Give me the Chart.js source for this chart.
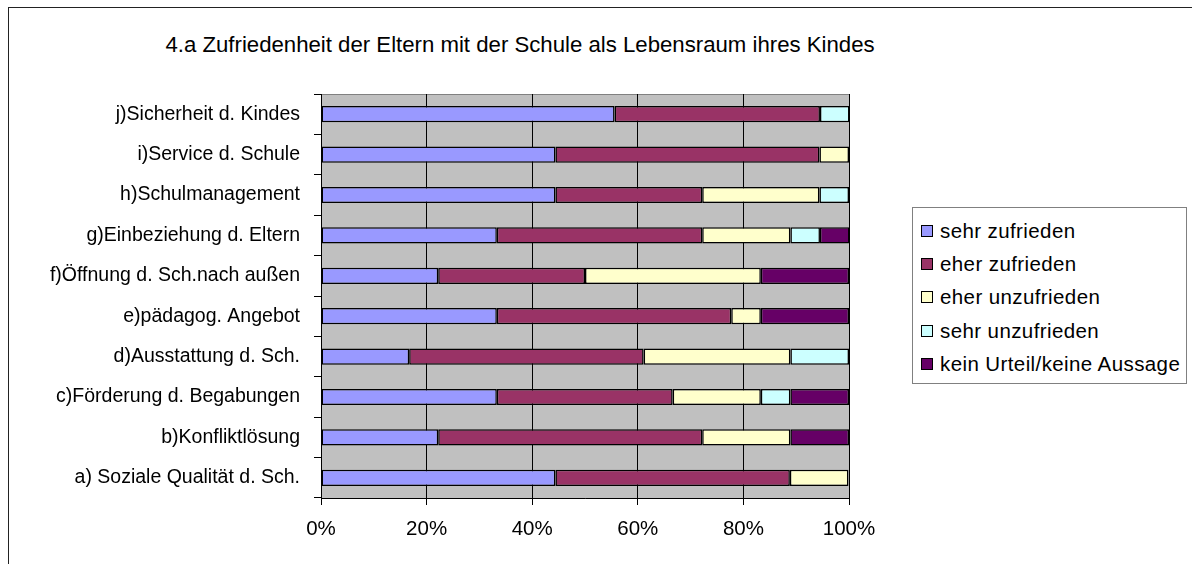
<!DOCTYPE html>
<html>
<head>
<meta charset="utf-8">
<script src="https://cdn.jsdelivr.net/npm/chart.js@4/dist/chart.umd.min.js"></script>
<style>
  body { margin: 0; background: #fff; font-family: "Liberation Sans", Arial, sans-serif; }
  #wrap { position: relative; width: 1192px; height: 564px; overflow: hidden; }
  #frame { position: absolute; left: 8px; top: 7px; width: 1300px; height: 700px; border: 1px solid #222; }
  #title { position: absolute; left: 0; width: 1040px; top: 32px; text-align: center; font-size: 22.2px; color: #000; }
  #chart { position: absolute; left: 0; top: 0; }
  #legend { position: absolute; left: 912px; top: 207px; width: 273px; height: 175px; border: 1px solid #808080; background: #fff; }
  #legend div { position: absolute; left: 8px; font-size: 20.5px; letter-spacing: 0.4px; line-height: 22px; color: #000; white-space: nowrap; }
  #legend span { display: inline-block; width: 10px; height: 10px; border: 1px solid #000; margin-right: 7px; vertical-align: 1px; }
</style>
</head>
<body>
<div id="wrap">
  <div id="frame"></div>
  <div id="title">4.a Zufriedenheit der Eltern mit der Schule als Lebensraum ihres Kindes</div>
  <canvas id="chart" width="1040" height="564"></canvas>
  <div id="legend"></div>
</div>
<script>
// ===============================
// DATA (percent, n = 18 answers)
// ===============================
const categories = [
    "j)Sicherheit d. Kindes",
    "i)Service d. Schule",
    "h)Schulmanagement",
    "g)Einbeziehung d. Eltern",
    "f)Öffnung d. Sch.nach außen",
    "e)pädagog. Angebot",
    "d)Ausstattung d. Sch.",
    "c)Förderung d. Begabungen",
    "b)Konfliktlösung",
    "a) Soziale Qualität d. Sch."
];

const seriesNames = ["sehr zufrieden", "eher zufrieden", "eher unzufrieden", "sehr unzufrieden", "kein Urteil/keine Aussage"];
const seriesColors = ["#9999FF", "#993366", "#FFFFCC", "#CCFFFF", "#660066"];

const sehrZufrieden    = [55.6, 44.4, 44.4, 33.3, 22.2, 33.3, 16.7, 33.3, 22.2, 44.4];
const eherZufrieden    = [38.9, 50.0, 27.8, 38.9, 27.8, 44.4, 44.4, 33.3, 50.0, 44.4];
const eherUnzufrieden  = [0,    5.6,  22.2, 16.7, 33.3, 5.6,  27.8, 16.7, 16.7, 11.1];
const sehrUnzufrieden  = [5.6,  0,    5.6,  5.6,  0,    0,    11.1, 5.6,  0,    0];
const keinUrteil       = [0,    0,    0,    5.6,  16.7, 16.7, 0,    11.1, 11.1, 0];

const xTicks = [0, 20, 40, 60, 80, 100];

const seriesValues = [sehrZufrieden, eherZufrieden, eherUnzufrieden, sehrUnzufrieden, keinUrteil];

// gray plot area
const plotBg = {
    id: "plotBg",
    beforeDraw(chart) {
        const a = chart.chartArea;
        const ctx = chart.ctx;
        ctx.save();
        ctx.fillStyle = "#C0C0C0";
        ctx.fillRect(a.left, a.top, a.right - a.left, a.bottom - a.top);
        ctx.strokeStyle = "#808080";
        ctx.lineWidth = 1;
        ctx.strokeRect(a.left + 0.5, a.top + 0.5, a.right - a.left, a.bottom - a.top);
        ctx.restore();
    }
};

new Chart(document.getElementById("chart"), {
    type: "bar",
    data: {
        labels: categories,
        datasets: seriesValues.map((vals, i) => ({
            label: seriesNames[i],
            data: vals,
            backgroundColor: seriesColors[i],
            borderColor: "#000",
            borderWidth: 1.5,
            borderSkipped: false,
            barPercentage: 0.4,
            categoryPercentage: 1
        }))
    },
    options: {
        indexAxis: "y",
        responsive: false,
        animation: false,
        layout: { padding: { left: 8, top: 94, right: 191, bottom: 24 } },
        plugins: {
            legend: { display: false },
            title: { display: false },
            tooltip: { enabled: false }
        },
        scales: {
            x: {
                stacked: true,
                min: 0,
                max: 100,
                afterBuildTicks: s => { s.ticks = xTicks.map(v => ({ value: v })); },
                afterFit: s => { s.height = 42; },
                grid: { color: "#000", lineWidth: 1, tickLength: 7, drawTicks: true },
                border: { color: "#000" },
                ticks: {
                    color: "#000",
                    padding: 12,
                    font: { family: "Liberation Sans", size: 20.5 },
                    callback: v => v + "%"
                }
            },
            y: {
                stacked: true,
                afterFit: s => { s.width = 313; },
                grid: { drawOnChartArea: false, color: "#000", tickLength: 7, offset: true },
                border: { color: "#000" },
                ticks: {
                    color: "#000",
                    padding: 14,
                    font: { family: "Liberation Sans", size: 19.5 }
                }
            }
        }
    },
    plugins: [plotBg]
});

// legend built from the same series arrays
const legend = document.getElementById("legend");
seriesNames.forEach((name, i) => {
    const d = document.createElement("div");
    d.style.top = (12 + i * 33.2) + "px";
    d.innerHTML = `<span style="background:${seriesColors[i]}"></span>${name}`;
    legend.appendChild(d);
});
</script>
</body>
</html>
